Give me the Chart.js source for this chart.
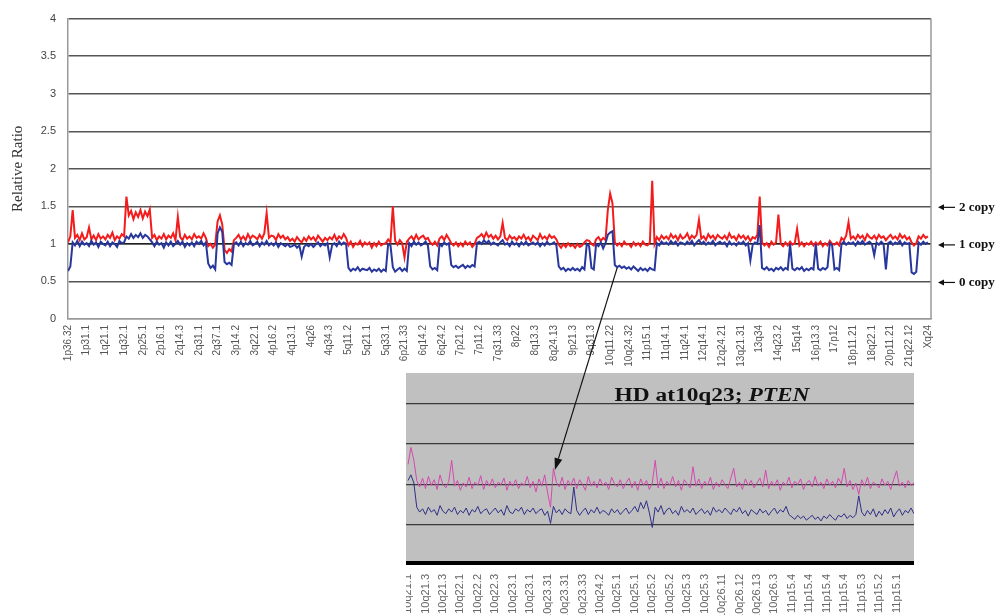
<!DOCTYPE html>
<html>
<head>
<meta charset="utf-8">
<script src="https://cdn.jsdelivr.net/npm/chart.js@4/dist/chart.umd.min.js"></script>
<style>
html, body { margin:0; padding:0; background:#fff; overflow:hidden; width:1000px; height:615px; }
#main { position:absolute; left:0; top:0; }
#zoom { position:absolute; left:406px; top:373px; background:#fff; }
#seta { position:absolute; left:0; top:0; pointer-events:none; }
</style>
</head>
<body>
<canvas id="main" width="1000" height="615"></canvas>
<canvas id="zoom" width="508" height="260"></canvas>
<canvas id="seta" width="1000" height="615"></canvas>
<script>
// genome-wide relative ratio, 8 probes per band label
var PER_BAND = 8;

var bands = ["1p36.32","1p31.1","1q21.1","1q32.1","2p25.1","2p16.1","2q14.3","2q31.1","2q37.1","3p14.2",
	"3q22.1","4p16.2","4q13.1","4q26","4q34.3","5q11.2","5q21.1","5q33.1","6p21.33","6q14.2",
	"6q24.2","7p21.2","7p11.2","7q31.33","8p22","8q13.3","8q24.13","9p21.3","9q31.3","10q11.22",
	"10q24.32","11p15.1","11q14.1","11q24.1","12q14.1","12q24.21","13q21.31","13q34","14q23.2","15q14",
	"16p13.3","17p12","18p11.21","18q22.1","20p11.21","21q22.12","Xq24"];

var redRatio = [
	1.02,1.10,1.45,1.08,1.12,1.05,1.14,1.06,
	1.09,1.22,1.06,1.11,1.05,1.13,1.07,1.10,
	1.06,1.12,1.08,1.15,1.05,1.10,1.07,1.13,
	1.10,1.63,1.38,1.44,1.33,1.42,1.36,1.45,
	1.34,1.43,1.37,1.46,1.08,1.12,1.05,1.10,
	1.07,1.13,1.06,1.11,1.08,1.14,1.05,1.36,
	1.09,1.05,1.12,1.07,1.10,1.06,1.13,1.08,
	1.10,1.07,1.14,1.08,0.97,1.00,0.95,0.99,
	1.30,1.38,1.26,0.92,0.88,0.93,0.90,1.05,
	1.08,1.12,1.06,1.10,1.05,1.13,1.07,1.11,
	1.09,1.06,1.12,1.07,1.14,1.41,1.08,1.11,
	1.10,1.05,1.13,1.08,1.11,1.06,1.09,1.04,
	1.07,1.03,1.09,1.05,1.02,1.08,1.04,1.10,
	1.06,1.09,1.04,1.11,1.07,1.03,1.08,1.05,
	1.09,1.06,1.12,1.05,1.10,1.07,1.13,1.08,
	0.98,1.03,0.96,1.01,0.99,1.04,0.97,1.02,
	0.99,1.02,0.95,1.01,0.97,1.03,0.98,1.00,
	1.01,1.06,1.02,1.50,1.04,0.99,1.05,1.01,
	0.82,1.03,1.07,1.10,1.05,1.12,1.06,1.09,
	1.11,1.06,1.08,1.02,0.99,1.03,0.98,1.07,
	1.10,1.05,1.12,1.07,1.01,0.98,1.02,0.97,
	1.01,0.97,1.03,0.99,1.02,0.96,1.00,1.08,
	1.10,1.13,1.08,1.15,1.09,1.12,1.07,1.11,
	1.06,1.10,1.28,1.08,1.05,1.11,1.07,1.09,
	1.05,1.10,1.07,1.12,1.06,1.09,1.04,1.11,
	1.08,1.05,1.13,1.07,1.10,1.06,1.12,1.08,
	1.10,1.06,0.99,0.95,1.00,0.96,1.01,0.97,
	0.99,0.95,1.00,0.96,0.98,1.02,1.05,1.04,
	1.00,0.98,1.06,1.09,1.04,1.08,1.05,1.45,
	1.67,1.54,1.02,0.98,1.01,0.97,1.03,0.99,
	1.00,0.96,1.02,0.98,1.01,0.97,1.03,0.99,
	0.98,1.02,1.84,1.00,1.09,1.05,1.11,1.07,
	1.10,1.06,1.13,1.08,1.11,1.05,1.12,1.07,
	1.09,1.14,1.06,1.11,1.08,1.12,1.32,1.07,
	1.10,1.05,1.13,1.08,1.11,1.06,1.12,1.09,
	1.07,1.11,1.06,1.14,1.08,1.10,1.05,1.12,
	1.08,1.11,1.06,1.10,1.04,1.09,1.07,1.12,
	1.63,1.02,0.98,1.01,0.96,1.03,0.99,1.02,
	1.39,1.00,0.97,1.02,0.98,1.03,0.99,1.01,
	1.20,0.98,1.02,0.97,1.01,0.99,1.03,0.98,
	1.02,0.99,1.03,0.97,1.01,0.98,1.04,1.00,
	0.99,1.02,0.98,1.08,1.05,1.11,1.29,1.07,
	1.10,1.06,1.12,1.08,1.11,1.05,1.13,1.09,
	1.07,1.11,1.06,1.12,1.08,1.10,1.05,1.09,
	1.12,1.07,1.10,1.06,1.13,1.08,1.11,1.06,
	1.09,1.02,0.98,1.01,1.10,1.07,1.12,1.08,
	1.10];

var blueRatio = [
	0.64,0.70,1.02,0.98,1.04,0.97,1.03,0.99,
	1.01,0.97,1.04,0.99,1.02,0.96,1.03,1.00,
	0.98,1.03,0.97,1.02,1.00,0.96,1.04,1.01,
	1.02,1.10,1.07,1.13,1.08,1.12,1.09,1.14,
	1.08,1.12,1.10,1.06,1.02,0.97,1.03,0.99,
	1.01,0.95,1.02,0.98,1.03,0.97,1.00,1.04,
	0.99,1.03,0.96,1.01,0.98,1.02,0.97,1.03,
	1.00,1.04,0.98,1.02,0.74,0.68,0.71,0.66,
	1.14,1.22,1.16,0.76,0.73,0.75,0.72,1.00,
	1.02,0.98,1.03,0.97,1.01,0.99,1.04,0.98,
	1.00,1.03,0.97,1.02,0.99,1.04,0.98,1.01,
	0.98,1.02,0.96,1.01,0.99,0.97,1.00,0.96,
	0.97,0.99,0.95,0.98,0.83,0.96,0.99,0.97,
	1.00,0.96,0.99,1.02,0.97,1.00,0.98,1.01,
	0.82,0.98,1.01,0.97,1.03,0.99,1.02,1.00,
	0.68,0.64,0.67,0.65,0.69,0.64,0.67,0.66,
	0.65,0.68,0.63,0.66,0.64,0.67,0.63,0.66,
	0.64,1.00,0.98,0.69,0.63,0.66,0.68,0.64,
	0.67,0.64,1.01,0.97,1.03,0.99,1.02,0.98,
	1.00,1.03,0.98,0.70,0.66,0.68,0.65,1.00,
	0.97,1.02,0.99,1.01,0.72,0.69,0.71,0.68,
	0.70,0.72,0.68,0.71,0.69,0.72,0.70,1.01,
	1.03,1.00,1.05,1.01,1.04,0.99,1.02,1.00,
	0.98,1.02,1.05,0.99,1.01,0.97,1.03,0.99,
	1.01,0.97,1.02,0.99,1.03,0.98,1.00,1.02,
	0.99,1.02,0.97,1.01,0.98,1.03,0.99,1.00,
	1.02,0.98,0.70,0.66,0.68,0.64,0.67,0.65,
	0.68,0.65,0.67,0.64,0.69,0.66,1.00,0.97,
	0.68,0.66,1.00,0.97,1.02,0.94,1.01,1.12,
	1.15,1.17,0.72,0.69,0.71,0.68,0.70,0.67,
	0.69,0.66,0.70,0.67,0.64,0.68,0.65,0.67,
	0.64,0.68,0.66,0.65,1.01,0.98,1.03,1.00,
	1.02,0.99,1.04,1.00,1.03,0.98,1.02,1.01,
	0.99,1.03,1.00,1.04,0.98,1.02,1.05,1.00,
	1.03,0.99,1.02,1.00,1.04,0.98,1.01,1.03,
	1.00,1.02,0.97,1.03,0.99,1.01,0.98,1.02,
	1.00,1.03,0.98,1.01,0.78,0.99,1.02,1.00,
	1.25,0.68,0.66,0.69,0.65,0.67,0.64,0.68,
	0.66,0.69,0.65,0.68,0.66,1.00,0.67,0.65,
	0.68,0.66,0.69,0.64,0.67,0.65,0.68,0.66,
	1.00,0.67,0.65,0.68,0.66,0.69,1.01,0.98,
	0.66,0.68,0.65,1.00,1.03,0.99,1.02,1.00,
	1.02,0.98,1.03,1.00,1.04,0.99,1.01,1.03,
	1.00,0.85,1.02,0.99,1.03,1.00,0.66,1.01,
	1.03,0.99,1.02,1.00,1.04,0.98,1.02,1.00,
	1.01,0.62,0.60,0.63,1.02,0.99,1.03,1.00,
	1.02];

var yTicks = [0,0.5,1,1.5,2,2.5,3,3.5,4];
var copyLevels = [[1.5,"2 copy"],[1,"1 copy"],[0.5,"0 copy"]];

// close-up around 10q23, 6 probes per band label
var ZPER = 6;
var zoomBands = ["10q21.1","10q21.3","10q21.3","10q22.1","10q22.2","10q22.3","10q23.1","10q23.1","10q23.31","10q23.31",
	"10q23.33","10q24.2","10q25.1","10q25.1","10q25.2","10q25.2","10q25.3","10q25.3","10q26.11","10q26.12",
	"10q26.13","10q26.3","11p15.4","11p15.4","11p15.4","11p15.4","11p15.3","11p15.2","11p15.1"];

var zoomPink = [
	1.25,1.46,1.30,1.05,0.97,1.08,
	0.95,1.10,0.99,1.06,0.94,1.12,
	1.00,0.96,1.04,1.30,0.98,1.05,
	0.93,1.02,0.97,1.09,0.95,1.03,
	0.99,1.11,0.94,1.05,0.98,1.07,
	0.96,1.03,1.00,1.08,0.93,1.04,
	0.98,1.06,0.95,1.02,0.99,1.10,
	0.96,1.04,0.91,1.07,0.98,1.12,
	0.90,0.72,1.20,1.03,0.97,1.09,
	0.94,1.05,0.99,1.08,0.95,1.06,
	1.00,0.93,1.10,0.98,1.04,0.96,
	1.07,0.99,1.03,0.94,1.09,1.01,
	0.97,1.06,0.95,1.02,1.08,0.96,
	1.04,0.93,1.07,0.99,1.05,0.94,
	1.02,1.30,0.96,1.08,0.95,1.04,
	0.99,1.10,0.97,1.05,0.93,1.06,
	1.01,0.96,1.22,0.98,1.07,0.95,
	1.04,0.99,1.09,0.94,1.03,0.97,
	1.06,1.00,0.95,1.08,1.20,0.97,
	1.03,0.94,1.07,0.99,1.05,0.96,
	1.02,1.08,0.97,1.18,0.95,1.04,
	0.98,1.06,0.93,1.03,0.99,1.09,
	0.96,1.04,1.00,1.07,0.94,1.02,
	1.05,0.97,1.10,0.98,1.03,0.95,
	1.07,0.99,1.04,0.96,1.08,1.01,
	1.20,0.97,1.05,0.94,1.02,0.88,
	1.06,0.98,1.09,0.95,1.03,1.00,
	0.96,1.07,0.99,1.04,0.94,1.06,
	1.17,0.98,1.03,0.96,1.05,0.99,
	1.02];

var zoomBlue = [
	1.05,1.12,1.02,0.72,0.66,0.70,
	0.63,0.72,0.66,0.69,0.62,0.74,
	0.67,0.64,0.70,0.66,0.72,0.63,
	0.68,0.65,0.71,0.62,0.69,0.66,
	0.73,0.64,0.68,0.70,0.63,0.67,
	0.71,0.65,0.69,0.62,0.74,0.66,
	0.64,0.70,0.67,0.72,0.63,0.69,
	0.66,0.71,0.64,0.68,0.70,0.62,
	0.67,0.52,0.73,0.65,0.69,0.63,
	0.70,0.66,0.64,0.97,0.68,0.62,
	0.67,0.71,0.63,0.69,0.65,0.72,
	0.64,0.68,0.66,0.62,0.70,0.65,
	0.69,0.63,0.67,0.71,0.64,0.68,
	0.73,0.66,0.78,0.70,0.80,0.65,
	0.47,0.72,0.66,0.74,0.63,0.69,
	0.71,0.64,0.68,0.62,0.73,0.66,
	0.69,0.65,0.71,0.63,0.67,0.70,
	0.64,0.68,0.62,0.72,0.66,0.69,
	0.65,0.71,0.67,0.63,0.70,0.66,
	0.72,0.64,0.68,0.61,0.69,0.66,
	0.63,0.70,0.65,0.68,0.62,0.67,
	0.71,0.64,0.69,0.66,0.73,0.63,
	0.60,0.57,0.62,0.58,0.61,0.56,
	0.59,0.62,0.57,0.60,0.55,0.61,
	0.58,0.63,0.59,0.56,0.62,0.60,
	0.64,0.58,0.62,0.59,0.63,0.86,
	0.66,0.61,0.68,0.63,0.70,0.60,
	0.67,0.62,0.69,0.64,0.71,0.60,
	0.66,0.70,0.62,0.68,0.65,0.71,
	0.64];
var zoomGrid = [0.5,1,1.5,2];

// arrow goes from the 10q23 loss in the genome view to the close-up
var arrowFrom = {x:235, y:0.68};
var arrowTo = {x:50.5, y:1.18};

var idx = function(arr){ return arr.map(function(v, i){ return {x:i, y:v}; }); };

// rotated labels would otherwise push the plot area inwards
var noSidePadding = function(s){ s.paddingLeft = 0; s.paddingRight = 0; };

var mainExtras = {
	id: "mainExtras",
	beforeDatasetsDraw: function(chart){
		var ctx = chart.ctx, a = chart.chartArea, y1 = chart.scales.y.getPixelForValue(1);
		ctx.save();
		ctx.strokeStyle = "#000";
		ctx.lineWidth = 1;
		ctx.beginPath();
		ctx.moveTo(a.left, y1);
		ctx.lineTo(a.right, y1);
		ctx.stroke();
		ctx.restore();
	},
	afterDraw: function(chart){
		var ctx = chart.ctx, a = chart.chartArea, ys = chart.scales.y;
		ctx.save();
		ctx.strokeStyle = "#999";
		ctx.lineWidth = 1.5;
		ctx.beginPath();
		ctx.moveTo(a.right, a.top);
		ctx.lineTo(a.right, a.bottom);
		ctx.stroke();

		ctx.fillStyle = "#111";
		ctx.strokeStyle = "#111";
		ctx.lineWidth = 1.2;
		ctx.font = "bold 13px 'Liberation Serif'";
		ctx.textBaseline = "middle";
		for(var i=0; i<copyLevels.length; i++){
			var y = ys.getPixelForValue(copyLevels[i][0]) + 1;
			var x0 = a.right + 7;
			ctx.beginPath();
			ctx.moveTo(x0 + 2, y);
			ctx.lineTo(x0 + 17, y);
			ctx.stroke();
			ctx.beginPath();
			ctx.moveTo(x0, y);
			ctx.lineTo(x0 + 6, y - 3);
			ctx.lineTo(x0 + 6, y + 3);
			ctx.closePath();
			ctx.fill();
			ctx.fillText(copyLevels[i][1], x0 + 21, y);
		}
		ctx.restore();
	}
};

var mainChart = new Chart(document.getElementById("main"), {
	type: "line",
	data: {
		datasets: [{
			label: "blue",
			data: idx(blueRatio),
			borderColor: "#27379c",
			borderWidth: 2,
			pointRadius: 0,
			tension: 0
		}, {
			label: "red",
			data: idx(redRatio),
			borderColor: "#f21c1c",
			borderWidth: 2,
			pointRadius: 0,
			tension: 0
		}]
	},
	options: {
		responsive: false,
		animation: false,
		devicePixelRatio: 1,
		layout: { padding: {left:0, right:69, top:13, bottom:0}, autoPadding: false },
		plugins: { legend: {display:false}, tooltip: {enabled:false} },
		scales: {
			x: {
				type: "linear",
				min: 0,
				max: 369.3,
				afterBuildTicks: function(s){
					s.ticks = bands.map(function(b, i){ return {value: i*PER_BAND}; });
				},
				afterFit: function(s){ s.height = 296; noSidePadding(s); },
				ticks: {
					autoSkip: false,
					minRotation: 90,
					maxRotation: 90,
					padding: 6,
					color: "#555",
					font: {family:"'Liberation Sans'", size:10},
					callback: function(v, i){ return bands[i]; }
				},
				grid: { drawOnChartArea:false, drawTicks:false },
				border: { color:"#999", width:1.5 }
			},
			y: {
				min: 0,
				max: 4,
				afterBuildTicks: function(s){
					s.ticks = yTicks.map(function(v){ return {value:v}; });
				},
				afterFit: function(s){ s.width = 68; },
				ticks: {
					padding: 12,
					color: "#444",
					font: {family:"'Liberation Sans'", size:11},
					callback: function(v){ return String(v); }
				},
				grid: {
					drawTicks: false,
					color: function(c){ return c.tick && c.tick.value === 0 ? "#999" : "#555"; },
					lineWidth: 1.5
				},
				border: { color:"#999", width:1.5 },
				title: {
					display: true,
					text: "Relative Ratio",
					color: "#333",
					font: {family:"'Liberation Serif'", size:15},
					padding: {top:9, bottom:0}
				}
			}
		}
	},
	plugins: [mainExtras]
});

var zoomExtras = {
	id: "zoomExtras",
	beforeDraw: function(chart){
		var ctx = chart.ctx, a = chart.chartArea;
		ctx.save();
		ctx.fillStyle = "#c0c0c0";
		ctx.fillRect(a.left, a.top, a.right - a.left, a.bottom - a.top);
		ctx.restore();
	},
	afterDraw: function(chart){
		var ctx = chart.ctx, a = chart.chartArea;
		var t1 = "HD at10q23; ", t2 = "PTEN";
		ctx.save();
		ctx.fillStyle = "#111";
		ctx.textBaseline = "alphabetic";
		ctx.font = "bold 18px 'Liberation Serif'";
		var w1 = ctx.measureText(t1).width;
		ctx.font = "italic bold 18px 'Liberation Serif'";
		var w2 = ctx.measureText(t2).width;
		var sx = 195 / (w1 + w2);
		ctx.translate(a.left + 306 - 195/2, a.top + 28);
		ctx.scale(sx, 1);
		ctx.font = "bold 18px 'Liberation Serif'";
		ctx.fillText(t1, 0, 0);
		ctx.font = "italic bold 18px 'Liberation Serif'";
		ctx.fillText(t2, w1, 0);
		ctx.restore();
	}
};

var zoomChart = new Chart(document.getElementById("zoom"), {
	type: "line",
	data: {
		datasets: [{
			label: "blue",
			data: idx(zoomBlue),
			borderColor: "#2e2f86",
			borderWidth: 1,
			pointRadius: 0,
			tension: 0
		}, {
			label: "pink",
			data: idx(zoomPink),
			borderColor: "#d44aae",
			borderWidth: 1,
			pointRadius: 0,
			tension: 0
		}]
	},
	options: {
		responsive: false,
		animation: false,
		devicePixelRatio: 1,
		layout: { padding: 0, autoPadding: false },
		plugins: { legend: {display:false}, tooltip: {enabled:false} },
		scales: {
			x: {
				type: "linear",
				min: -0.7,
				max: 174,
				afterBuildTicks: function(s){
					s.ticks = zoomBands.map(function(b, i){ return {value: i*ZPER}; });
				},
				afterFit: function(s){ s.height = 70; noSidePadding(s); },
				ticks: {
					autoSkip: false,
					minRotation: 90,
					maxRotation: 90,
					padding: 11,
					color: "#666",
					font: {family:"'Liberation Sans'", size:11},
					callback: function(v, i){ return zoomBands[i]; }
				},
				grid: { drawOnChartArea:false, drawTicks:false },
				border: { color:"#000", width:4, dash:[4,2] }
			},
			y: {
				min: 0.03,
				max: 2.38,
				afterBuildTicks: function(s){
					s.ticks = zoomGrid.map(function(v){ return {value:v}; });
				},
				afterFit: function(s){ s.width = 0; },
				ticks: { display:false },
				grid: { drawTicks:false, color:"#3a3a3a", lineWidth:1.3 },
				border: { display:false }
			}
		}
	},
	plugins: [zoomExtras]
});

// arrow on a top layer so it can cross both charts
var drawArrow = function(){
	var c = document.getElementById("seta"), ctx = c.getContext("2d");
	var zc = document.getElementById("zoom");
	var x1 = mainChart.scales.x.getPixelForValue(arrowFrom.x);
	var y1 = mainChart.scales.y.getPixelForValue(arrowFrom.y);
	var x2 = zc.offsetLeft + zoomChart.scales.x.getPixelForValue(arrowTo.x);
	var y2 = zc.offsetTop + zoomChart.scales.y.getPixelForValue(arrowTo.y);
	var ang = Math.atan2(y2 - y1, x2 - x1);
	var len = 12, half = 4;
	var bx = x2 - len*Math.cos(ang), by = y2 - len*Math.sin(ang);
	ctx.strokeStyle = "#111";
	ctx.fillStyle = "#111";
	ctx.lineWidth = 1.2;
	ctx.beginPath();
	ctx.moveTo(x1, y1);
	ctx.lineTo(bx, by);
	ctx.stroke();
	ctx.beginPath();
	ctx.moveTo(x2, y2);
	ctx.lineTo(bx + half*Math.sin(ang), by - half*Math.cos(ang));
	ctx.lineTo(bx - half*Math.sin(ang), by + half*Math.cos(ang));
	ctx.closePath();
	ctx.fill();
};
drawArrow();
</script>
</body>
</html>
